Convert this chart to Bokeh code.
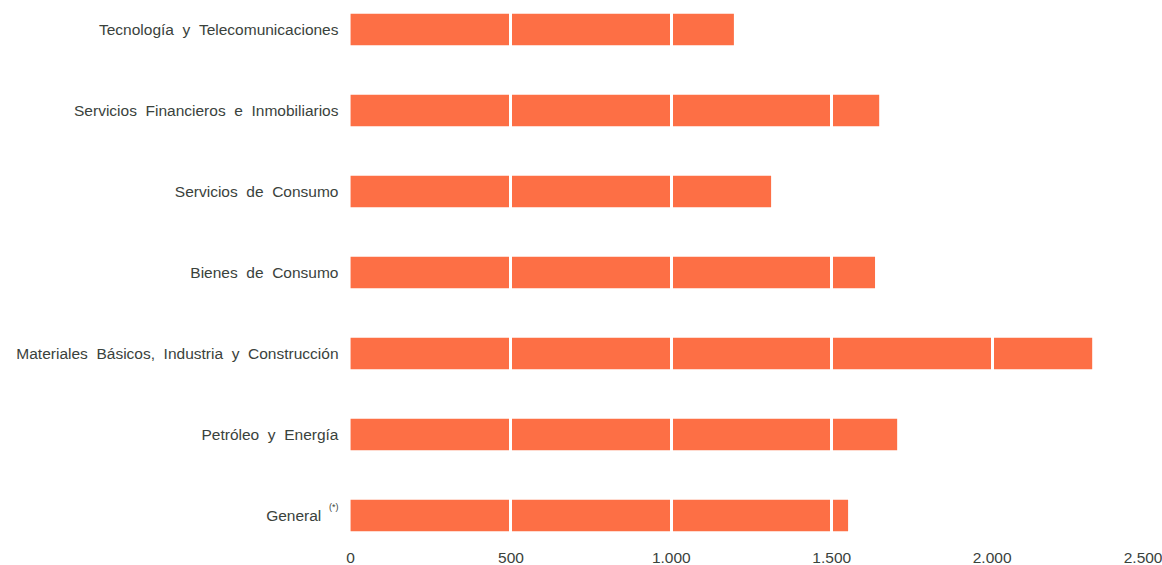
from bokeh.plotting import figure
from bokeh.models import FactorRange, Range1d, FixedTicker, Label
from bokeh.embed import file_html
from bokeh.resources import INLINE

# Data (bottom to top)
categories = [
    "General",
    "Petróleo y Energía",
    "Materiales Básicos, Industria y Construcción",
    "Bienes de Consumo",
    "Servicios de Consumo",
    "Servicios Financieros e Inmobiliarios",
    "Tecnología y Telecomunicaciones",
]
values = [1551, 1704, 2312, 1635, 1311, 1648, 1195]
x_ticks = [0, 500, 1000, 1500, 2000, 2500]
x_tick_labels = ["0", "500", "1.000", "1.500", "2.000", "2.500"]

BAR = "#FD6F45"
TXT = "#3A423C"
FONT = "Liberation Sans"

def spaced(s):
    return s.replace(" ", " \u00a0")

display = [spaced(c) for c in categories]
gi = categories.index("General")
display[gi] = "General\u00a0\u00a0\u00a0\u00a0"

# frame starts a little left of 0 so the small "(*)" note can be drawn inside it
p = figure(
    width=1162, height=565,
    y_range=FactorRange(factors=display, range_padding=-0.24, range_padding_units="absolute"),
    x_range=Range1d(-100, 2500),
    output_backend="svg", toolbar_location=None,
    min_border_left=318, min_border_right=10, min_border_top=8, min_border_bottom=26,
)
p.outline_line_color = None
p.background_fill_color = "white"
p.border_fill_color = "white"

p.hbar(y=display, right=values, left=0, height=0.39, color=BAR, line_color=None)

axis_ticks = x_ticks[:-1] + [2472]
p.xaxis.ticker = FixedTicker(ticks=axis_ticks)
p.xaxis.major_label_overrides = {t: l for t, l in zip(axis_ticks, x_tick_labels)}
p.xaxis.axis_line_color = None
p.xaxis.major_tick_line_color = None
p.xaxis.minor_tick_line_color = None
p.xaxis.major_tick_out = 0
p.xaxis.major_label_standoff = 16
p.xaxis.major_label_text_font = FONT
p.xaxis.major_label_text_font_size = "15.5px"
p.xaxis.major_label_text_color = TXT

p.yaxis.axis_line_color = None
p.yaxis.major_tick_line_color = None
p.yaxis.minor_tick_line_color = None
p.yaxis.major_tick_out = 0
p.yaxis.major_label_standoff = -20
p.yaxis.major_label_text_font = FONT
p.yaxis.major_label_text_font_size = "15.5px"
p.yaxis.major_label_text_color = TXT

p.ygrid.grid_line_color = None
p.xgrid.ticker = FixedTicker(ticks=[500, 1000, 1500, 2000])
p.xgrid.grid_line_color = "white"
p.xgrid.grid_line_width = 3
p.xgrid.level = "overlay"

note = Label(x=0, y=gi + 0.5, x_offset=-12, y_offset=8, text="(*)",
             text_align="right", text_baseline="middle",
             text_font=FONT, text_font_size="9px", text_color=TXT)
p.add_layout(note)

open("out.html", "w").write(file_html(p, INLINE))
